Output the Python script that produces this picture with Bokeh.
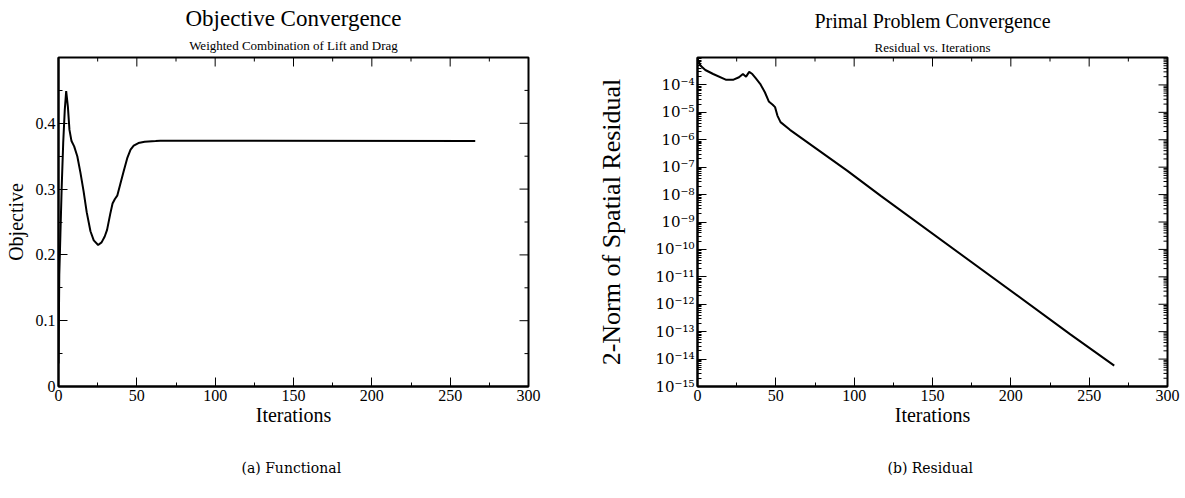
from bokeh.plotting import figure
from bokeh.layouts import row
from bokeh.models import FixedTicker, Range1d, Title
from bokeh.embed import file_html
from bokeh.resources import INLINE

# ---------------- data ----------------
obj_iter = [0, 0.5, 1.2, 2, 3, 4, 4.9, 6, 7, 8.3, 10, 12, 14, 16, 18, 20.4, 22.5,
            25.3, 27.5, 29.5, 31, 33, 34.5, 36, 37.5, 39.5, 41.6, 44, 46, 48, 51,
            55, 62, 65, 266]
obj_value = [0.035, 0.17, 0.23, 0.30, 0.37, 0.42, 0.449, 0.425, 0.39, 0.373, 0.365,
             0.35, 0.325, 0.297, 0.265, 0.236, 0.222, 0.215, 0.219, 0.228, 0.238,
             0.262, 0.278, 0.285, 0.29, 0.308, 0.327, 0.348, 0.36, 0.366, 0.37,
             0.372, 0.373, 0.3735, 0.373]

res_iter = [0, 2, 5, 10, 18, 23, 26.5, 29, 31, 33, 35, 37, 40, 43, 45.5, 48, 49.5,
            51, 53, 59, 95.5, 117, 238, 266]
res_value = [9e-4, 5.0e-4, 3.5e-4, 2.5e-4, 1.55e-4, 1.55e-4, 1.9e-4, 2.5e-4, 2.0e-4,
             3.0e-4, 2.5e-4, 1.8e-4, 1.1e-4, 5.4e-5, 2.5e-5, 1.9e-5, 1.55e-5,
             7.6e-6, 4.4e-6, 2.3e-6, 7.5e-8, 9.0e-9, 8.0e-14, 5.8e-15]

x_ticks = [0, 50, 100, 150, 200, 250, 300]
x_minor_ticks = [25, 75, 125, 175, 225, 275]
obj_ticks = [0, 0.1, 0.2, 0.3, 0.4]
obj_minor_ticks = [0.05, 0.15, 0.25, 0.35, 0.45]
obj_tick_labels = ["0", "0.1", "0.2", "0.3", "0.4"]
res_exponents = [-15, -14, -13, -12, -11, -10, -9, -8, -7, -6, -5, -4]
res_tick_labels = ["10⁻¹⁵", "10⁻¹⁴", "10⁻¹³", "10⁻¹²", "10⁻¹¹", "10⁻¹⁰",
                   "10⁻⁹", "10⁻⁸", "10⁻⁷", "10⁻⁶", "10⁻⁵", "10⁻⁴"]

FONT = "Liberation Serif"
FRAME_W, FRAME_H = 470, 329
X_MAX = 300
OBJ_MAX = 0.5
RES_MIN, RES_MAX = 1e-15, 1e-3
MAJ, MIN = 9, 4  # tick lengths in px


def style_axis(ax):
    ax.axis_line_color = "black"
    ax.axis_line_width = 2
    ax.major_tick_in = MAJ
    ax.major_tick_out = 0
    ax.minor_tick_in = MIN
    ax.minor_tick_out = 0
    ax.major_tick_line_color = "black"
    ax.minor_tick_line_color = "black"
    ax.major_label_text_font = FONT
    ax.major_label_text_color = "black"
    ax.major_label_text_font_size = "16px"
    ax.major_label_standoff = 3
    ax.axis_label_text_font = FONT
    ax.axis_label_text_font_style = "normal"
    ax.axis_label_text_color = "black"


def base_fig(width, left, right, y_type):
    p = figure(width=width, height=498, frame_width=FRAME_W, frame_height=FRAME_H,
               min_border_left=left, min_border_right=right, min_border_top=57,
               min_border_bottom=112, output_backend="svg", toolbar_location=None,
               y_axis_type=y_type)
    p.grid.visible = False
    p.outline_line_color = "black"
    p.outline_line_width = 2
    p.background_fill_color = "white"
    p.border_fill_color = "white"
    p.x_range = Range1d(0, X_MAX)
    return p


def add_title(p, text, size, place, standoff, font=FONT):
    p.add_layout(Title(text=text, align="center", text_font=font, text_font_size=size,
                       text_font_style="normal", text_color="black", standoff=standoff,
                       offset=0), place)


# ---------------- left: objective ----------------
p1 = base_fig(592, 58, 64, "linear")
p1.y_range = Range1d(0, OBJ_MAX)
p1.xaxis.ticker = FixedTicker(ticks=x_ticks, minor_ticks=x_minor_ticks)
p1.yaxis.ticker = FixedTicker(ticks=obj_ticks, minor_ticks=obj_minor_ticks)
p1.yaxis.major_label_overrides = {t: s for t, s in zip(obj_ticks, obj_tick_labels)}
for ax in p1.xaxis + p1.yaxis:
    style_axis(ax)
p1.xaxis.axis_label = "Iterations"
p1.xaxis.axis_label_text_font_size = "20px"
p1.xaxis.axis_label_standoff = 0
p1.yaxis.axis_label = "Objective"
p1.yaxis.axis_label_text_font_size = "20px"
p1.yaxis.axis_label_standoff = 6

# mirrored ticks (top and right), inward
dy_maj = OBJ_MAX * MAJ / FRAME_H
dy_min = OBJ_MAX * MIN / FRAME_H
dx_maj = X_MAX * MAJ / FRAME_W
dx_min = X_MAX * MIN / FRAME_W
p1.segment(x0=x_ticks, x1=x_ticks, y0=[OBJ_MAX] * len(x_ticks),
           y1=[OBJ_MAX - dy_maj] * len(x_ticks), line_color="black", line_width=1)
p1.segment(x0=x_minor_ticks, x1=x_minor_ticks, y0=[OBJ_MAX] * len(x_minor_ticks),
           y1=[OBJ_MAX - dy_min] * len(x_minor_ticks), line_color="black", line_width=1)
p1.segment(x0=[X_MAX] * len(obj_ticks), x1=[X_MAX - dx_maj] * len(obj_ticks),
           y0=obj_ticks, y1=obj_ticks, line_color="black", line_width=1)
p1.segment(x0=[X_MAX] * len(obj_minor_ticks), x1=[X_MAX - dx_min] * len(obj_minor_ticks),
           y0=obj_minor_ticks, y1=obj_minor_ticks, line_color="black", line_width=1)

p1.line(obj_iter, obj_value, line_color="black", line_width=2)

add_title(p1, "Weighted Combination of Lift and Drag", "13px", "above", 9)
add_title(p1, "Objective Convergence", "23px", "above", 2)
add_title(p1, "(a)  Functional", "14px", "below", 59, "DejaVu Serif")

# ---------------- right: residual ----------------
p2 = base_fig(593, 105, 18, "log")
p2.y_range = Range1d(RES_MIN, RES_MAX)
res_ticks = [10.0 ** e for e in res_exponents]
log_minor = [m * 10.0 ** e for e in range(-15, -3) for m in range(2, 10)]
p2.xaxis.ticker = FixedTicker(ticks=x_ticks, minor_ticks=x_minor_ticks)
p2.yaxis.ticker = FixedTicker(ticks=res_ticks, minor_ticks=log_minor)
p2.yaxis.major_label_overrides = {t: s for t, s in zip(res_ticks, res_tick_labels)}
for ax in p2.xaxis + p2.yaxis:
    style_axis(ax)
p2.yaxis.major_label_text_font = "DejaVu Serif"
p2.yaxis.major_label_text_font_size = "15px"
p2.xaxis.axis_label = "Iterations"
p2.xaxis.axis_label_text_font_size = "20px"
p2.xaxis.axis_label_standoff = 0
p2.yaxis.axis_label = "2-Norm of Spatial Residual"
p2.yaxis.axis_label_text_font_size = "26px"
p2.yaxis.axis_label_standoff = 26

decades = 15 - 3
f_maj = 10 ** (decades * MAJ / FRAME_H)
f_min = 10 ** (decades * MIN / FRAME_H)
p2.segment(x0=x_ticks, x1=x_ticks, y0=[RES_MAX] * len(x_ticks),
           y1=[RES_MAX / f_maj] * len(x_ticks), line_color="black", line_width=1)
p2.segment(x0=x_minor_ticks, x1=x_minor_ticks, y0=[RES_MAX] * len(x_minor_ticks),
           y1=[RES_MAX / f_min] * len(x_minor_ticks), line_color="black", line_width=1)
p2.segment(x0=[X_MAX] * len(res_ticks), x1=[X_MAX - dx_maj] * len(res_ticks),
           y0=res_ticks, y1=res_ticks, line_color="black", line_width=1)
p2.segment(x0=[X_MAX] * len(log_minor), x1=[X_MAX - dx_min] * len(log_minor),
           y0=log_minor, y1=log_minor, line_color="black", line_width=1)

p2.line(res_iter, res_value, line_color="black", line_width=2)

add_title(p2, "Residual vs. Iterations", "13px", "above", 6)
add_title(p2, "Primal Problem Convergence", "20px", "above", 6)
add_title(p2, "(b)  Residual", "14px", "below", 59, "DejaVu Serif")

layout = row(p1, p2)
open("out.html", "w").write(file_html(layout, INLINE))
